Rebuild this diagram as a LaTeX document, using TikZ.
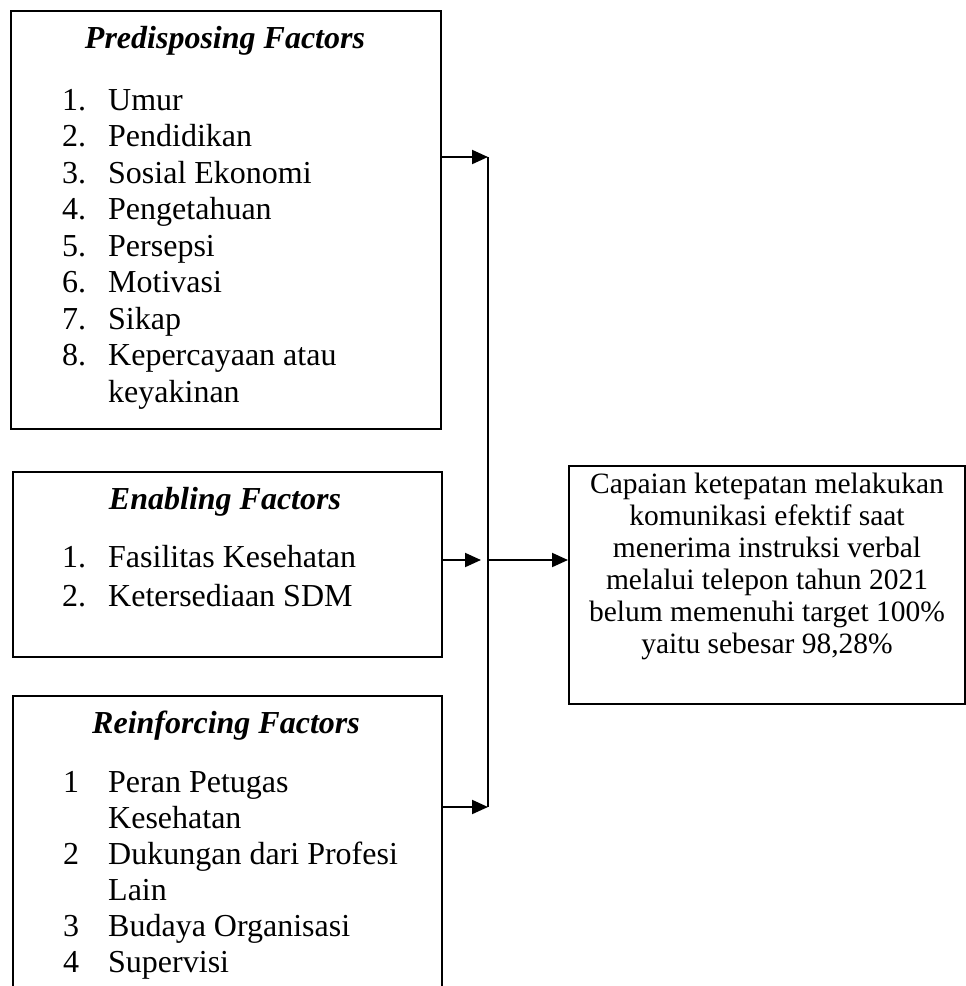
\documentclass[tikz,border=0pt]{standalone}
\usepackage{fontspec}
\setmainfont{Liberation Serif}
\usetikzlibrary{arrows.meta}
\begin{document}
\begin{tikzpicture}[x=1pt,y=-1pt,
  box/.style={draw, line width=1.6pt, inner sep=0pt, anchor=north west},
  item/.style={anchor=base west, inner sep=0pt, font=\fontsize{32}{36}\selectfont},
  ttl/.style={anchor=base, inner sep=0pt, font=\fontsize{32}{36}\selectfont\bfseries\itshape},
  outl/.style={anchor=base, inner sep=0pt, font=\fontsize{29.5}{32}\selectfont},
  arr/.style={line width=2pt, -{Triangle[length=16pt,width=14pt]}},
  ln/.style={line width=1.8pt}]
\clip (0,0) rectangle (966,986);
% boxes
\node[box, minimum width=430pt, minimum height=418pt] (pre) at (10,10) {};
\node[box, minimum width=429pt, minimum height=185pt] (ena) at (12,471) {};
\node[box, minimum width=429pt, minimum height=330pt] (rei) at (12,695) {};
\node[box, minimum width=396pt, minimum height=238pt] (out) at (568,465) {};
% box 1
\node[ttl] (t1) at (225,48) {Predisposing Factors};
\node[item] (n11) at (62,110) {1.};   \node[item] (i11) at (108,110) {Umur};
\node[item] (n12) at (62,146.5) {2.}; \node[item] (i12) at (108,146.5) {Pendidikan};
\node[item] (n13) at (62,183) {3.};   \node[item] (i13) at (108,183) {Sosial Ekonomi};
\node[item] (n14) at (62,219.5) {4.}; \node[item] (i14) at (108,219.5) {Pengetahuan};
\node[item] (n15) at (62,256) {5.};   \node[item] (i15) at (108,256) {Persepsi};
\node[item] (n16) at (62,292.5) {6.}; \node[item] (i16) at (108,292.5) {Motivasi};
\node[item] (n17) at (62,329) {7.};   \node[item] (i17) at (108,329) {Sikap};
\node[item] (n18) at (62,365.5) {8.}; \node[item] (i18) at (108,365.5) {Kepercayaan atau};
\node[item] (i19) at (108,402) {keyakinan};
% box 2
\node[ttl] (t2) at (225,509) {Enabling Factors};
\node[item] (n21) at (62,567) {1.}; \node[item] (i21) at (108,567) {Fasilitas Kesehatan};
\node[item] (n22) at (62,606) {2.}; \node[item] (i22) at (108,606) {Ketersediaan SDM};
% box 3
\node[ttl] (t3) at (226,733) {Reinforcing Factors};
\node[item] (n31) at (63,792) {1}; \node[item] (i31) at (108,792) {Peran Petugas};
\node[item] (i32) at (108,828) {Kesehatan};
\node[item] (n33) at (63,864) {2}; \node[item] (i33) at (108,864) {Dukungan dari Profesi};
\node[item] (i34) at (108,900) {Lain};
\node[item] (n35) at (63,936) {3}; \node[item] (i35) at (108,936) {Budaya Organisasi};
\node[item] (n36) at (63,972) {4}; \node[item] (i36) at (108,972) {Supervisi};
% outcome text
\node[outl] (o1) at (767,493) {Capaian ketepatan melakukan};
\node[outl] (o2) at (767,525) {komunikasi efektif saat};
\node[outl] (o3) at (767,557) {menerima instruksi verbal};
\node[outl] (o4) at (767,589) {melalui telepon tahun 2021};
\node[outl] (o5) at (767,621) {belum memenuhi target 100\%};
\node[outl] (o6) at (767,653) {yaitu sebesar 98,28\%};
% connectors
\coordinate (j1) at (488,157);
\coordinate (j2) at (481,560);
\coordinate (jm) at (488,560);
\coordinate (j3) at (488,807);
\draw[ln] (j1) -- (j3);
\draw[arr] (pre.east |- j1) -- (j1);
\draw[arr] (ena.east |- j2) -- (j2);
\draw[arr] (rei.east |- j3) -- (j3);
\draw[arr] (jm) -- (jm -| out.west);
\end{tikzpicture}
\end{document}
